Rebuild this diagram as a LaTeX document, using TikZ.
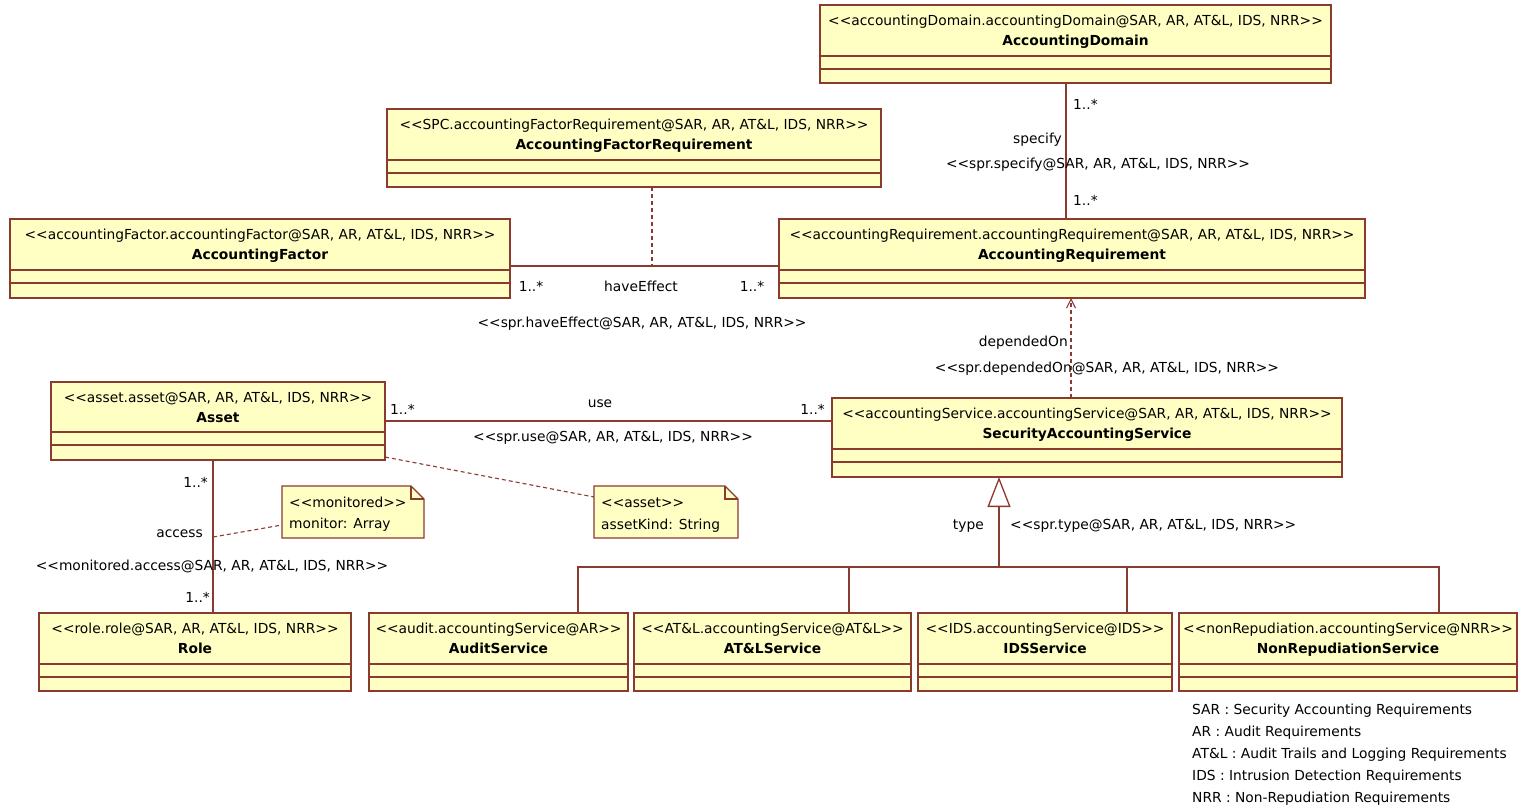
\documentclass[tikz,border=0pt]{standalone}
\usepackage{fontspec}
\newfontfamily\umlfont{DejaVu Sans}
\usetikzlibrary{calc,arrows.meta}
\definecolor{umlInk}{HTML}{8B3A30}
\definecolor{umlFill}{HTML}{FFFFC4}

\begin{document}
\begin{tikzpicture}[
    x=1pt, y=-1pt,
    uml box/.style={draw=umlInk, fill=umlFill, line width=1.3pt, anchor=north west, outer sep=0pt, inner sep=0pt},
    uml line/.style={draw=umlInk, line width=1.3pt},
    uml link/.style={draw=umlInk, line width=1.3pt},
    uml dep/.style={draw=umlInk, line width=1.1pt, dash pattern=on 4pt off 3pt},
    uml stereo/.style={text=black, font=\umlfont\fontsize{13.8}{16}\selectfont, inner sep=0pt, anchor=base},
    uml title/.style={text=black, font=\umlfont\bfseries\fontsize{13.8}{16}\selectfont, inner sep=0pt, anchor=base},
    uml label/.style={text=black, font=\umlfont\fontsize{13.8}{16}\selectfont, inner sep=0pt, anchor=base},
]

  \fill[white] (0,0) rectangle (1521,807);
  \useasboundingbox (0,0) rectangle (1521,807);

  % Classes.
  \node[uml box, minimum width=511pt, minimum height=78pt] (c-domain) at (820,5) {};
  \node[uml box, minimum width=494pt, minimum height=78pt] (c-afreq) at (387,109) {};
  \node[uml box, minimum width=500pt, minimum height=79pt] (c-factor) at (10,219) {};
  \node[uml box, minimum width=586pt, minimum height=79pt] (c-areq) at (779,219) {};
  \node[uml box, minimum width=334pt, minimum height=78pt] (c-asset) at (51,382) {};
  \node[uml box, minimum width=510pt, minimum height=79pt] (c-sas) at (832,398) {};
  \node[uml box, minimum width=312pt, minimum height=78pt] (c-role) at (39,613) {};
  \node[uml box, minimum width=259pt, minimum height=78pt] (c-audit) at (369,613) {};
  \node[uml box, minimum width=277pt, minimum height=78pt] (c-atl) at (634,613) {};
  \node[uml box, minimum width=254pt, minimum height=78pt] (c-ids) at (918,613) {};
  \node[uml box, minimum width=338pt, minimum height=78pt] (c-nrr) at (1179,613) {};

  % Compartimentos.
  \draw[uml line] ($(c-domain.north west)+(0,51)$) -- ($(c-domain.north east)+(0,51)$) ($(c-domain.north west)+(0,64)$) -- ($(c-domain.north east)+(0,64)$);
  \draw[uml line] ($(c-afreq.north west)+(0,51)$) -- ($(c-afreq.north east)+(0,51)$) ($(c-afreq.north west)+(0,64)$) -- ($(c-afreq.north east)+(0,64)$);
  \draw[uml line] ($(c-factor.north west)+(0,51)$) -- ($(c-factor.north east)+(0,51)$) ($(c-factor.north west)+(0,64)$) -- ($(c-factor.north east)+(0,64)$);
  \draw[uml line] ($(c-areq.north west)+(0,51)$) -- ($(c-areq.north east)+(0,51)$) ($(c-areq.north west)+(0,64)$) -- ($(c-areq.north east)+(0,64)$);
  \draw[uml line] ($(c-asset.north west)+(0,50)$) -- ($(c-asset.north east)+(0,50)$) ($(c-asset.north west)+(0,63)$) -- ($(c-asset.north east)+(0,63)$);
  \draw[uml line] ($(c-sas.north west)+(0,51)$) -- ($(c-sas.north east)+(0,51)$) ($(c-sas.north west)+(0,64)$) -- ($(c-sas.north east)+(0,64)$);
  \draw[uml line] ($(c-role.north west)+(0,51)$) -- ($(c-role.north east)+(0,51)$) ($(c-role.north west)+(0,64)$) -- ($(c-role.north east)+(0,64)$);
  \draw[uml line] ($(c-audit.north west)+(0,51)$) -- ($(c-audit.north east)+(0,51)$) ($(c-audit.north west)+(0,64)$) -- ($(c-audit.north east)+(0,64)$);
  \draw[uml line] ($(c-atl.north west)+(0,51)$) -- ($(c-atl.north east)+(0,51)$) ($(c-atl.north west)+(0,64)$) -- ($(c-atl.north east)+(0,64)$);
  \draw[uml line] ($(c-ids.north west)+(0,51)$) -- ($(c-ids.north east)+(0,51)$) ($(c-ids.north west)+(0,64)$) -- ($(c-ids.north east)+(0,64)$);
  \draw[uml line] ($(c-nrr.north west)+(0,51)$) -- ($(c-nrr.north east)+(0,51)$) ($(c-nrr.north west)+(0,64)$) -- ($(c-nrr.north east)+(0,64)$);

  % Nomes das classes.
  \node[uml stereo] at ($(c-domain.north)+(0,20)$) {<<accountingDomain.accountingDomain@SAR, AR, AT\&L, IDS, NRR>>};
  \node[uml title] at ($(c-domain.north)+(0,40)$) {AccountingDomain};
  \node[uml stereo] at ($(c-afreq.north)+(0,20)$) {<<SPC.accountingFactorRequirement@SAR, AR, AT\&L, IDS, NRR>>};
  \node[uml title] at ($(c-afreq.north)+(0,40)$) {AccountingFactorRequirement};
  \node[uml stereo] at ($(c-factor.north)+(0,20)$) {<<accountingFactor.accountingFactor@SAR, AR, AT\&L, IDS, NRR>>};
  \node[uml title] at ($(c-factor.north)+(0,40)$) {AccountingFactor};
  \node[uml stereo] at ($(c-areq.north)+(0,20)$) {<<accountingRequirement.accountingRequirement@SAR, AR, AT\&L, IDS, NRR>>};
  \node[uml title] at ($(c-areq.north)+(0,40)$) {AccountingRequirement};
  \node[uml stereo] at ($(c-asset.north)+(0,20)$) {<<asset.asset@SAR, AR, AT\&L, IDS, NRR>>};
  \node[uml title] at ($(c-asset.north)+(0,40)$) {Asset};
  \node[uml stereo] at ($(c-sas.north)+(0,20)$) {<<accountingService.accountingService@SAR, AR, AT\&L, IDS, NRR>>};
  \node[uml title] at ($(c-sas.north)+(0,40)$) {SecurityAccountingService};
  \node[uml stereo] at ($(c-role.north)+(0,20)$) {<<role.role@SAR, AR, AT\&L, IDS, NRR>>};
  \node[uml title] at ($(c-role.north)+(0,40)$) {Role};
  \node[uml stereo] at ($(c-audit.north)+(0,20)$) {<<audit.accountingService@AR>>};
  \node[uml title] at ($(c-audit.north)+(0,40)$) {AuditService};
  \node[uml stereo] at ($(c-atl.north)+(0,20)$) {<<AT\&L.accountingService@AT\&L>>};
  \node[uml title] at ($(c-atl.north)+(0,40)$) {AT\&LService};
  \node[uml stereo] at ($(c-ids.north)+(0,20)$) {<<IDS.accountingService@IDS>>};
  \node[uml title] at ($(c-ids.north)+(0,40)$) {IDSService};
  \node[uml stereo] at ($(c-nrr.north)+(0,20)$) {<<nonRepudiation.accountingService@NRR>>};
  \node[uml title] at ($(c-nrr.north)+(0,40)$) {NonRepudiationService};

  % Notas.
  \node[uml box, draw=none, fill=none, minimum width=142pt, minimum height=52pt] (n-mon) at (282,486) {};
  \draw[uml line, fill=umlFill] (n-mon.north west) -- ($(n-mon.north east)+(-13,0)$) -- ($(n-mon.north east)+(0,13)$) -- (n-mon.south east) -- (n-mon.south west) -- cycle;
  \draw[uml line] ($(n-mon.north east)+(-13,0)$) |- ($(n-mon.north east)+(0,13)$);
  \node[uml label, anchor=base west] at ($(n-mon.north west)+(7,21)$) {<<monitored>>};
  \node[uml label, anchor=base west] at ($(n-mon.north west)+(7,42)$) {monitor: Array};
  \node[uml box, draw=none, fill=none, minimum width=144pt, minimum height=52pt] (n-asset) at (594,486) {};
  \draw[uml line, fill=umlFill] (n-asset.north west) -- ($(n-asset.north east)+(-13,0)$) -- ($(n-asset.north east)+(0,13)$) -- (n-asset.south east) -- (n-asset.south west) -- cycle;
  \draw[uml line] ($(n-asset.north east)+(-13,0)$) |- ($(n-asset.north east)+(0,13)$);
  \node[uml label, anchor=base west] at ($(n-asset.north west)+(7,21)$) {<<asset>>};
  \node[uml label, anchor=base west] at ($(n-asset.north west)+(7,43)$) {assetKind: String};

  % Pontos de apoio das ligações.
  \coordinate (k-spec) at (1066,0);
  \coordinate (k-eff) at (652,266);
  \coordinate (k-dep) at (1071,0);
  \coordinate (k-use) at (600,421);
  \coordinate (k-acc) at (213,0);
  \coordinate (k-mon) at (213,537);
  \coordinate (k-gen) at (999,567);
  \coordinate (k-audit) at (578,567);
  \coordinate (k-atl) at (849,567);
  \coordinate (k-ids) at (1127,567);
  \coordinate (k-nrr) at (1439,567);

  % Associações.
  \draw[uml link] (k-spec |- c-domain.south) -- (k-spec |- c-areq.north);
  \draw[uml link] (c-factor.east |- k-eff) -- (c-areq.west |- k-eff);
  \draw[uml dep] (k-eff |- c-afreq.south) -- (k-eff);
  \draw[uml dep, -{Straight Barb[length=9pt, width=9pt]}] (k-dep |- c-sas.north) -- (k-dep |- c-areq.south);
  \draw[uml link] (c-asset.east |- k-use) -- (c-sas.west |- k-use);
  \draw[uml dep] ($(c-asset.south east)+(0,-3)$) -- ($(n-asset.north west)+(0,11)$);
  \draw[uml link] (k-acc |- c-asset.south) -- (k-acc |- c-role.north);
  \draw[uml dep] (k-mon) -- ($(n-mon.south west)+(0,-13)$);

  % Generalização.
  \draw[uml link, -{Triangle[open, length=30pt, width=23pt]}] (k-gen) -- (k-gen |- c-sas.south);
  \draw[uml link] (k-audit |- c-audit.north) -- (k-audit) -- (k-nrr) -- (k-nrr |- c-nrr.north);
  \draw[uml link] (k-atl) -- (k-atl |- c-atl.north);
  \draw[uml link] (k-ids) -- (k-ids |- c-ids.north);

  % Rótulos.
  \node[uml label, anchor=base west] at ($(k-spec |- c-domain.south)+(7,26)$) {1..*};
  \node[uml label, anchor=base east] at (1062,143) {specify};
  \node[uml label] at (1098,168) {<<spr.specify@SAR, AR, AT\&L, IDS, NRR>>};
  \node[uml label, anchor=base west] at ($(k-spec |- c-areq.north)+(7,-14)$) {1..*};
  \node[uml label] at ($(c-factor.east |- k-eff)+(21,25)$) {1..*};
  \node[uml label] at ($(k-eff)+(-11,25)$) {haveEffect};
  \node[uml label] at ($(c-areq.west |- k-eff)+(-27,25)$) {1..*};
  \node[uml label] at (642,327) {<<spr.haveEffect@SAR, AR, AT\&L, IDS, NRR>>};
  \node[uml label, anchor=base east] at (1068,346) {dependedOn};
  \node[uml label] at (1107,372) {<<spr.dependedOn@SAR, AR, AT\&L, IDS, NRR>>};
  \node[uml label, anchor=base west] at ($(c-asset.east |- k-use)+(5,-7)$) {1..*};
  \node[uml label] at ($(k-use)+(0,-14)$) {use};
  \node[uml label, anchor=base east] at ($(c-sas.west |- k-use)+(-7,-7)$) {1..*};
  \node[uml label] at (613,441) {<<spr.use@SAR, AR, AT\&L, IDS, NRR>>};
  \node[uml label, anchor=base east] at ($(k-acc |- c-asset.south)+(-5,27)$) {1..*};
  \node[uml label, anchor=base east] at ($(k-mon)+(-10,0)$) {access};
  \node[uml label] at (212,570) {<<monitored.access@SAR, AR, AT\&L, IDS, NRR>>};
  \node[uml label, anchor=base east] at ($(k-acc |- c-role.north)+(-3,-11)$) {1..*};
  \node[uml label, anchor=base east] at (984,529) {type};
  \node[uml label, anchor=base west] at (1010,529) {<<spr.type@SAR, AR, AT\&L, IDS, NRR>>};

  % Legenda.
  \node[uml label, anchor=base west] (leg-sar) at (1192,714) {SAR : Security Accounting Requirements};
  \node[uml label, anchor=base west] (leg-ar) at (1192,736) {AR : Audit Requirements};
  \node[uml label, anchor=base west] (leg-atl) at (1192,758) {AT\&L : Audit Trails and Logging Requirements};
  \node[uml label, anchor=base west] (leg-ids) at (1192,780) {IDS : Intrusion Detection Requirements};
  \node[uml label, anchor=base west] (leg-nrr) at (1192,802) {NRR : Non-Repudiation Requirements};
\end{tikzpicture}
\end{document}
